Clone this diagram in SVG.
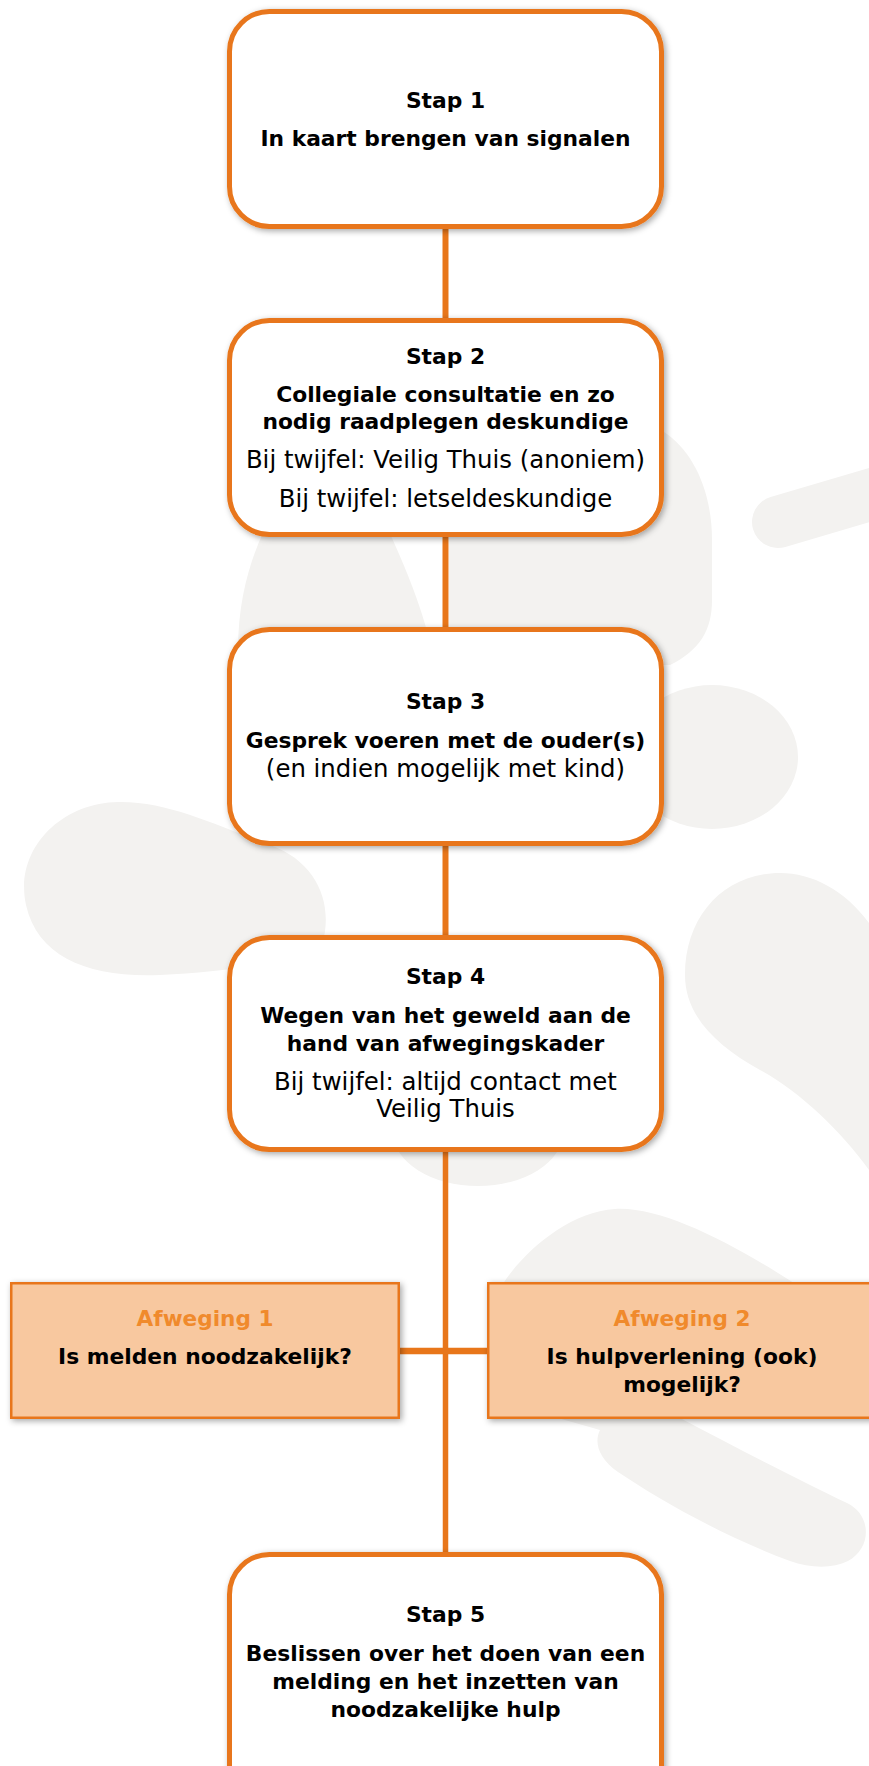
<svg xmlns="http://www.w3.org/2000/svg" width="869" height="1766" viewBox="0 0 869 1766">
<defs>
<style>
.bg{fill:#F3F2F0}
.box{fill:#FFFFFF;stroke:#E8761A;stroke-width:5;filter:url(#sh)}
.alt{fill:#F8C89F;stroke:#E8761A;stroke-width:2.5;filter:url(#sh)}
.con{stroke:#E8761A;stroke-width:6;fill:none}
.b{font-family:"DejaVu Sans",sans-serif;font-weight:bold;font-size:21.8px;fill:#000;text-anchor:middle}
.r{font-family:"DejaVu Sans",sans-serif;font-size:24.4px;fill:#000;text-anchor:middle}
.t{font-family:"DejaVu Sans",sans-serif;font-weight:bold;font-size:21.6px;fill:#F08A2C;text-anchor:middle}
</style>
<filter id="sh" x="-10%" y="-10%" width="120%" height="120%">
<feDropShadow dx="2" dy="2" stdDeviation="3" flood-color="#000" flood-opacity="0.35"/>
</filter>
</defs>
<rect width="869" height="1766" fill="#FFFFFF"/>
<g id="background">
<line x1="778" y1="522" x2="910" y2="483" stroke="#F3F2F0" stroke-width="52" stroke-linecap="round"/>
<path class="bg" d="M300,470 C268,515 238,570 238,650 L432,650 C420,600 402,560 386,525 Z"/>
<path class="bg" d="M449,480 L664,432 C692,450 712,490 712,540 L712,600 C712,630 700,650 670,665 L449,665 Z"/>
<ellipse class="bg" cx="712" cy="757" rx="86" ry="72"/>
<path class="bg" d="M26,905 C14,850 60,803 118,802 C170,801 222,828 270,845 C318,862 334,905 322,945 C290,962 230,972 160,975 C90,978 38,958 26,905 Z"/>
<path class="bg" d="M869,923 C845,890 812,873 780,873 C725,873 685,915 685,975 C685,1015 715,1045 760,1070 C800,1092 840,1130 869,1170 Z"/>
<ellipse class="bg" cx="478" cy="1132" rx="85" ry="54"/>
<path class="bg" d="M495,1300 C505,1270 560,1212 615,1209 C665,1206 740,1248 805,1290 L760,1415 L680,1418 C740,1450 800,1480 847,1503 C872,1515 872,1548 848,1561 C832,1569 810,1568 790,1561 C720,1535 655,1497 618,1472 C598,1458 594,1442 600,1430 L495,1400 Z"/>
</g>
<g id="connectors">
<line class="con" x1="445.5" y1="226" x2="445.5" y2="321"/>
<line class="con" x1="445.5" y1="534" x2="445.5" y2="630"/>
<line class="con" x1="445.5" y1="843" x2="445.5" y2="938"/>
<line class="con" x1="445.5" y1="1149" x2="445.5" y2="1555" style="stroke-width:5.5"/>
<line class="con" x1="398" y1="1351" x2="489" y2="1351" style="stroke-width:6.5"/>
</g>
<g id="stap1">
<rect class="box" x="229.5" y="11.5" width="432" height="215" rx="40"/>
<text class="b" x="445.5" y="108">Stap 1</text>
<text class="b" x="445.5" y="146">In kaart brengen van signalen</text>
</g>
<g id="stap2">
<rect class="box" x="229.5" y="320.5" width="432" height="214" rx="40"/>
<text class="b" x="445.5" y="364">Stap 2</text>
<text class="b" x="445.5" y="402">Collegiale consultatie en zo</text>
<text class="b" x="445.5" y="429">nodig raadplegen deskundige</text>
<text class="r" x="445.5" y="468">Bij twijfel: Veilig Thuis (anoniem)</text>
<text class="r" x="445.5" y="507">Bij twijfel: letseldeskundige</text>
</g>
<g id="stap3">
<rect class="box" x="229.5" y="629.5" width="432" height="214" rx="40"/>
<text class="b" x="445.5" y="709">Stap 3</text>
<text class="b" x="445.5" y="748">Gesprek voeren met de ouder(s)</text>
<text class="r" x="445.5" y="777">(en indien mogelijk met kind)</text>
</g>
<g id="stap4">
<rect class="box" x="229.5" y="937.5" width="432" height="212" rx="40"/>
<text class="b" x="445.5" y="984">Stap 4</text>
<text class="b" x="445.5" y="1023">Wegen van het geweld aan de</text>
<text class="b" x="445.5" y="1051">hand van afwegingskader</text>
<text class="r" x="445.5" y="1090">Bij twijfel: altijd contact met</text>
<text class="r" x="445.5" y="1117">Veilig Thuis</text>
</g>
<g id="afweging1">
<rect class="alt" x="11.25" y="1283.25" width="387.5" height="134.5"/>
<text class="t" x="205" y="1326">Afweging 1</text>
<text class="b" x="205" y="1364">Is melden noodzakelijk?</text>
</g>
<g id="afweging2">
<rect class="alt" x="488.25" y="1283.25" width="387.5" height="134.5"/>
<text class="t" x="682" y="1326">Afweging 2</text>
<text class="b" x="682" y="1364">Is hulpverlening (ook)</text>
<text class="b" x="682" y="1392">mogelijk?</text>
</g>
<g id="stap5">
<rect class="box" x="229.5" y="1554.5" width="432" height="300" rx="40"/>
<text class="b" x="445.5" y="1622">Stap 5</text>
<text class="b" x="445.5" y="1661">Beslissen over het doen van een</text>
<text class="b" x="445.5" y="1689">melding en het inzetten van</text>
<text class="b" x="445.5" y="1717">noodzakelijke hulp</text>
</g>
</svg>
